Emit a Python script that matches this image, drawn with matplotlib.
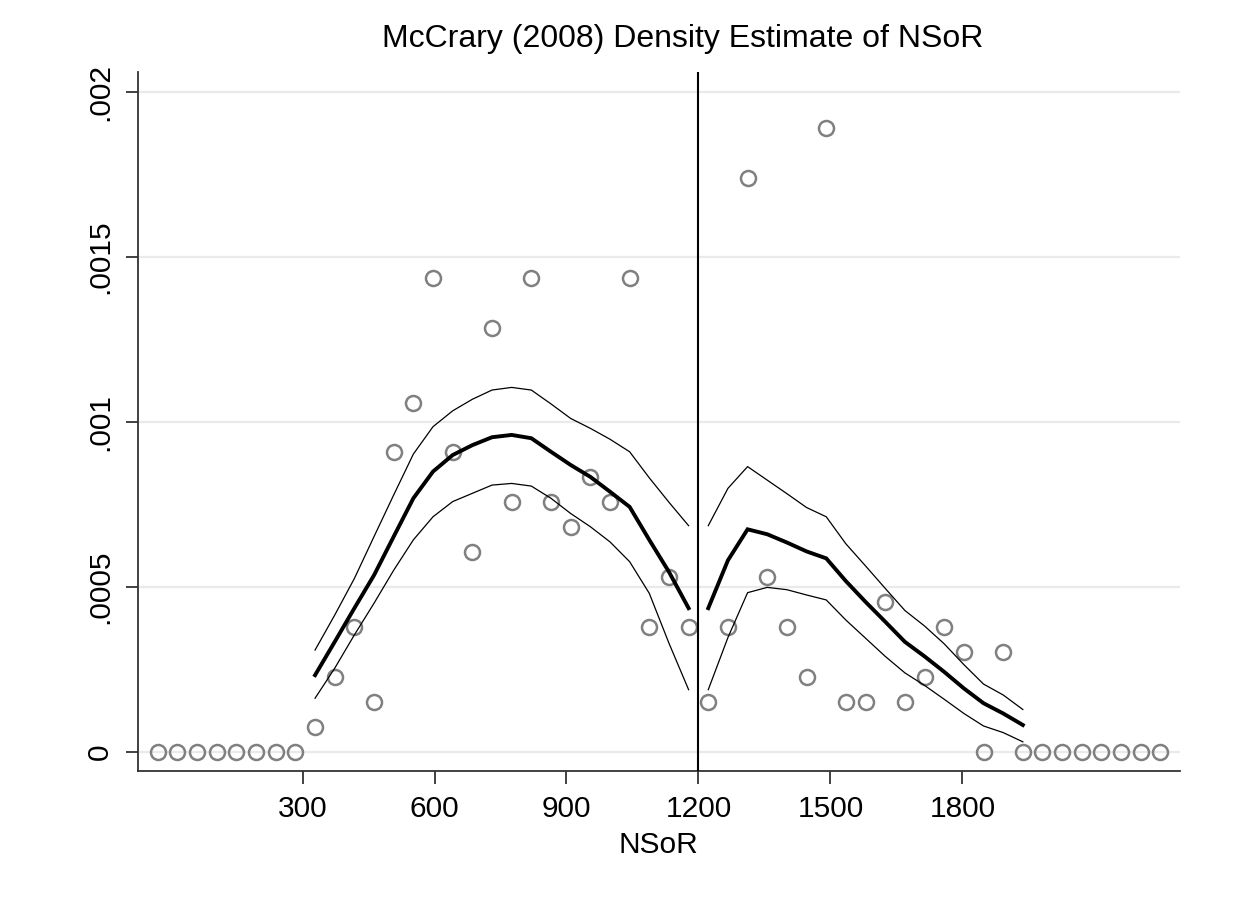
import numpy as np
import matplotlib
matplotlib.use("Agg")
import matplotlib.pyplot as plt

plt.rcParams['font.family'] = ['Liberation Sans', 'DejaVu Sans']

cutoff = 1200
bin_width = 44.7

# histogram-bin densities (left of cutoff: 28 bins, right: 24 bins)
left_density = [0, 0, 0, 0, 0, 0, 0, 0,
                0.0000756, 0.000227, 0.000378, 0.000151, 0.000907, 0.001058,
                0.001436, 0.000907, 0.000605, 0.001285, 0.000756, 0.001436,
                0.000756, 0.000680, 0.000832, 0.000756, 0.001436, 0.000378,
                0.000529, 0.000378]
right_density = [0.000151, 0.000378, 0.001739, 0.000529, 0.000378, 0.000227,
                 0.001890, 0.000151, 0.000151, 0.000454, 0.000151, 0.000227,
                 0.000378, 0.000302, 0, 0.000302,
                 0, 0, 0, 0, 0, 0, 0, 0]

# local linear fit and 95% CI, evaluated at bins 8..27 (left) and 0..16 (right)
left_fit = [0.000232, 0.000333, 0.000435, 0.000535, 0.000652, 0.000768,
            0.000849, 0.000899, 0.000929, 0.000953, 0.000960, 0.000950,
            0.000909, 0.000869, 0.000833, 0.000788, 0.000742, 0.000642,
            0.000545, 0.000435]
left_hi = [0.000308, 0.000414, 0.000525, 0.000652, 0.000778, 0.000902,
           0.000985, 0.001033, 0.001068, 0.001096, 0.001104, 0.001096,
           0.001054, 0.001010, 0.000980, 0.000947, 0.000909, 0.000830,
           0.000756, 0.000685]
left_lo = [0.000162, 0.000253, 0.000354, 0.000450, 0.000550, 0.000642,
           0.000712, 0.000758, 0.000783, 0.000808, 0.000813, 0.000805,
           0.000768, 0.000722, 0.000682, 0.000636, 0.000576, 0.000480,
           0.000329, 0.000188]
right_fit = [0.000435, 0.000580, 0.000674, 0.000659, 0.000634, 0.000607,
             0.000586, 0.000517, 0.000454, 0.000394, 0.000333, 0.000289,
             0.000242, 0.000192, 0.000147, 0.000116, 0.000081]
right_hi = [0.000685, 0.000798, 0.000864, 0.000823, 0.000782, 0.000740,
            0.000712, 0.000630, 0.000563, 0.000495, 0.000428, 0.000381,
            0.000327, 0.000264, 0.000205, 0.000172, 0.000128]
right_lo = [0.000188, 0.000346, 0.000482, 0.000498, 0.000491, 0.000475,
            0.000460, 0.000399, 0.000344, 0.000289, 0.000239, 0.000201,
            0.000159, 0.000116, 0.000078, 0.000058, 0.000030]

x_ticks = [300, 600, 900, 1200, 1500, 1800]
y_ticks = [0, 0.0005, 0.001, 0.0015, 0.002]
y_ticklabels = ['0', '.0005', '.001', '.0015', '.002']

# bin centres
n_left = len(left_density)
n_right = len(right_density)
left_x = cutoff - bin_width * (np.arange(n_left)[::-1] + 0.5)
right_x = cutoff + bin_width * (np.arange(n_right) + 0.5)
left_line_x = left_x[n_left - len(left_fit):]
right_line_x = right_x[:len(right_fit)]

fig = plt.figure(figsize=(12.49, 9.0), dpi=100)
ax = fig.add_axes([0.1102, 0.1433, 0.8346, 0.7770])

gray = '#808080'
for yv in y_ticks:
    ax.axhline(yv, color='#eaeaea', lw=1.6, zorder=0)

mk = dict(marker='o', ls='none', ms=10.8, mfc='none', mec=gray, mew=1.8, zorder=3)
ax.plot(left_x, left_density, **mk)
ax.plot(right_x, right_density, **mk)

for xs, f, hi, lo in [(left_line_x, left_fit, left_hi, left_lo),
                      (right_line_x, right_fit, right_hi, right_lo)]:
    ax.plot(xs, f, color='black', lw=2.8, zorder=4, solid_joinstyle='miter')
    ax.plot(xs, hi, color='black', lw=0.9, zorder=4)
    ax.plot(xs, lo, color='black', lw=0.9, zorder=4)

ax.axvline(cutoff, color='black', lw=1.5, zorder=5)

ax.set_xlim(-75, 2295)
ax.set_ylim(-0.0000585, 0.0020606)
ax.set_xticks(x_ticks)
ax.set_xticklabels([str(v) for v in x_ticks])
ax.set_yticks(y_ticks)
ax.set_yticklabels(y_ticklabels, rotation=90, va='center')

for s in ['top', 'right']:
    ax.spines[s].set_visible(False)
for s in ['left', 'bottom']:
    ax.spines[s].set_linewidth(1.3)
    ax.spines[s].set_color('#333333')
ax.tick_params(axis='both', length=9, width=1.3, color='#333333',
               labelsize=21.5, pad=8)

ax.set_xlabel('NSoR', fontsize=21.5, labelpad=6)
fig.text(683 / 1249, 1 - 39 / 900, 'McCrary (2008) Density Estimate of NSoR',
         ha='center', va='center', fontsize=23)

fig.savefig('out.png', dpi=100, facecolor='white')
